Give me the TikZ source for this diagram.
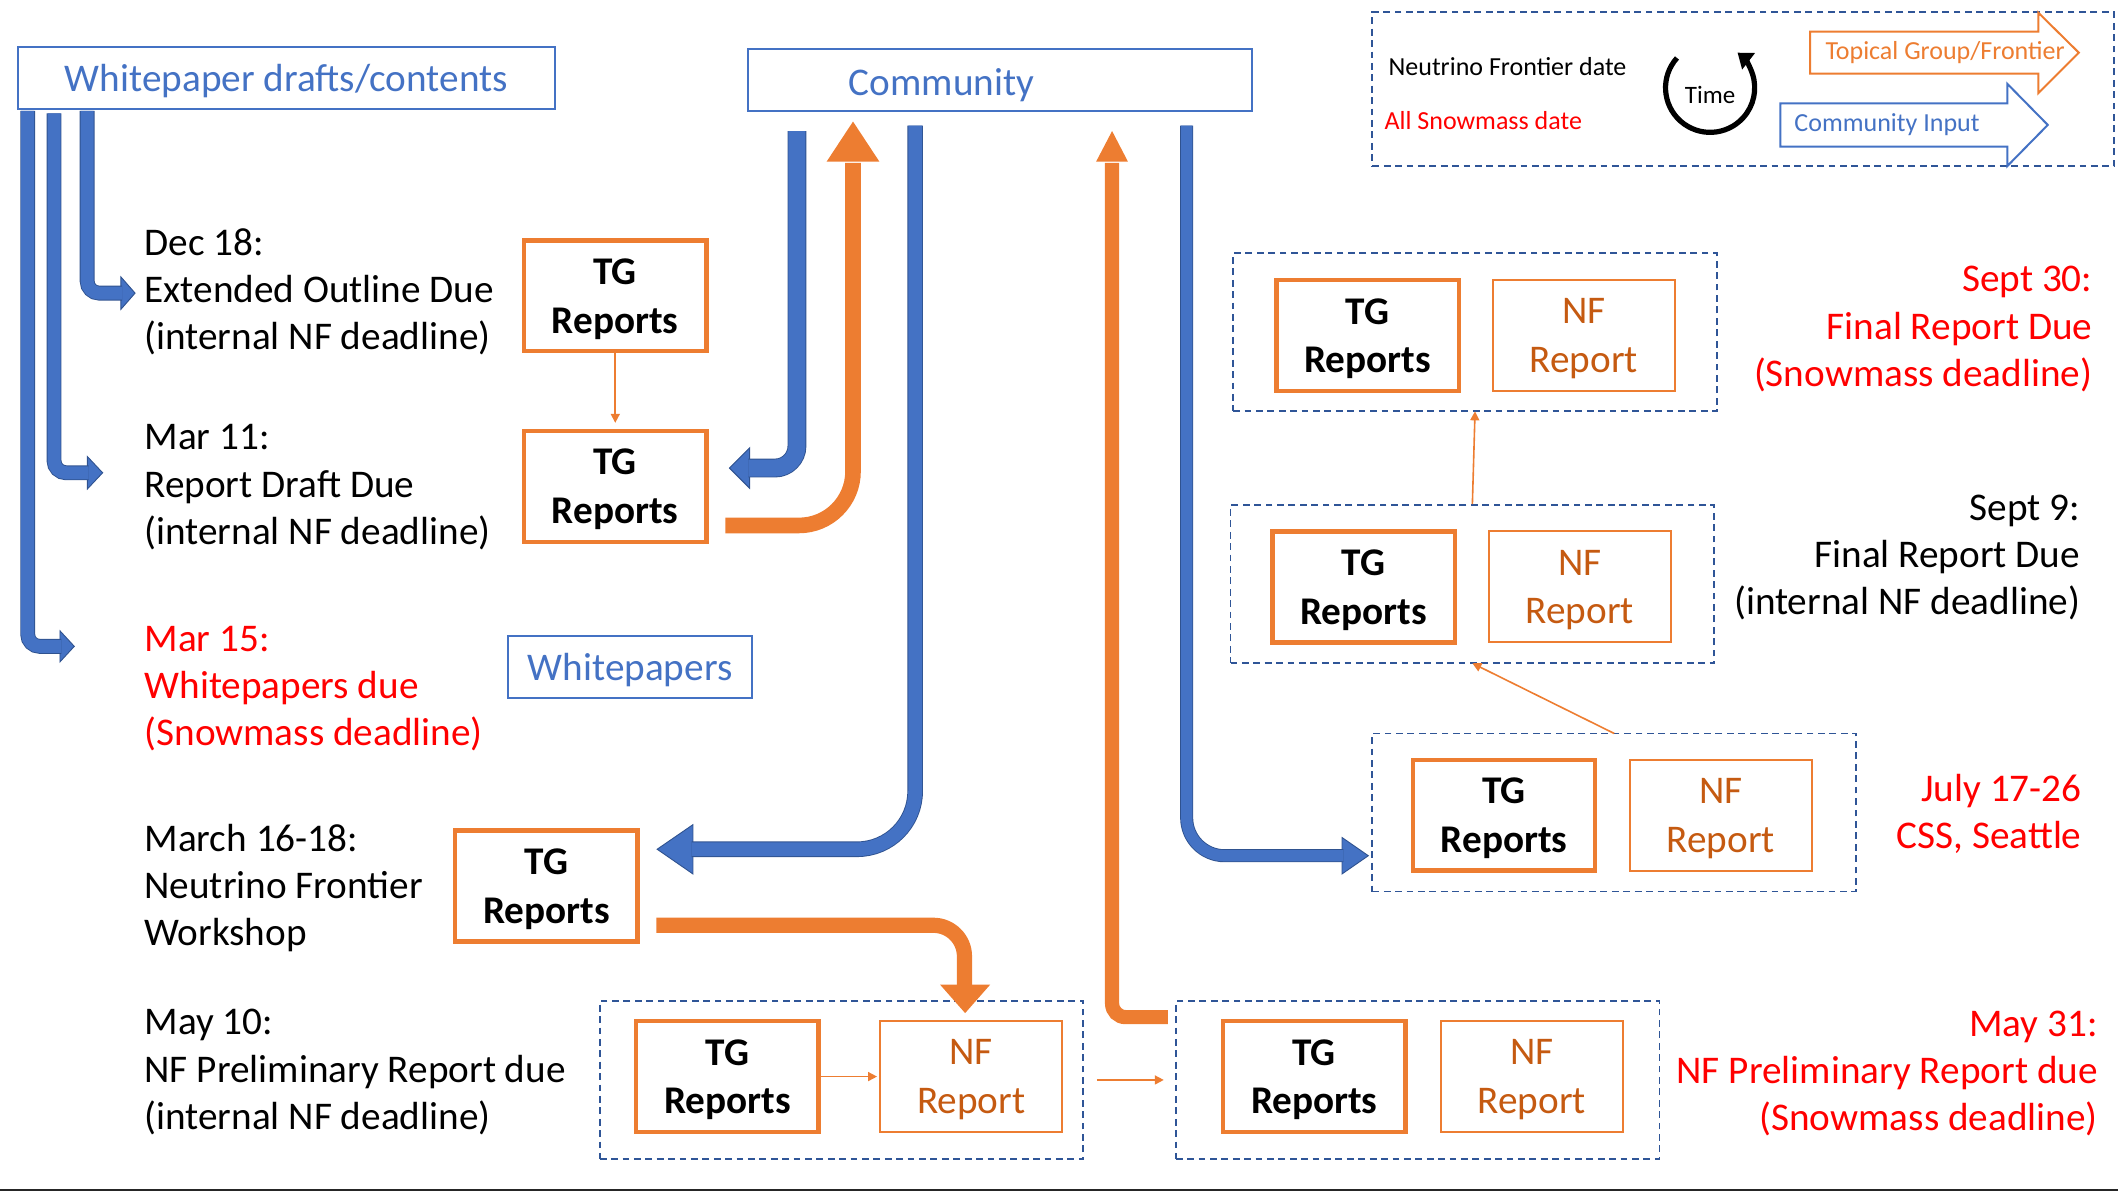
\documentclass[tikz,border=0pt]{standalone}
\usepackage{fontspec}
\setmainfont{Carlito}
\usetikzlibrary{arrows.meta}
\definecolor{bfill}{HTML}{4472C4}
\definecolor{bdark}{HTML}{2F528F}
\definecolor{oran}{HTML}{ED7D31}
\definecolor{nftext}{HTML}{C55A11}
\definecolor{dashc}{HTML}{2F5597}
\definecolor{redt}{HTML}{FF0000}
\begin{document}
\begin{tikzpicture}[x=0.675pt,y=-0.675pt,
  every node/.style={inner sep=0pt, outer sep=0pt},
  big/.style={font=\fontsize{19.6}{23.6}\selectfont},
  legtxt/.style={font=\fontsize{13}{15}\selectfont},
  tgbox/.style={draw=oran, line width=2.2pt, minimum width=91.1pt, minimum height=55.4pt, align=center, text depth=-2.7pt, font=\fontsize{19.6}{24.3}\selectfont\bfseries},
  nfbox/.style={draw=oran, line width=1pt, minimum width=91.1pt, minimum height=55.4pt, align=center, text depth=-2.7pt, text=nftext, font=\fontsize{19.6}{24.3}\selectfont},
  grp/.style={draw=dashc, line width=0.9pt, dash pattern=on 3.4pt off 2.3pt, minimum width=241.7pt, minimum height=79pt},
  bluebox/.style={draw=bfill, line width=1pt, text=bfill, text depth=0pt, big},
  lefttxt/.style={big, align=left, anchor=base west},
  righttxt/.style={big, align=right, anchor=base east},
  thinarr/.style={draw=oran, line width=0.8pt, -{Triangle[length=4.5pt,width=4.5pt]}},
  bshaft/.style={draw=bdark, line width=0.45pt, double=bfill},
  bhead/.style={fill=bfill, draw=bdark, line width=0.45pt, line join=miter},
  ohead/.style={fill=oran}
]
\useasboundingbox (0,0) rectangle (1568,882);

% ---------- top boxes
\node[bluebox, minimum width=268.7pt, minimum height=31pt] (wpd) at (212,58) {Whitepaper drafts/contents};
\node[draw=bfill, line width=1pt, minimum width=251.8pt, minimum height=31pt] (comm) at (740.5,59) {};
\node[big, text=bfill, text depth=0pt] (commtxt) at (697,60.5) {Community};

% ---------- legend
\node[grp, minimum width=370.6pt, minimum height=77pt] (legend) at (1290.5,66) {};
\node[legtxt, anchor=west] (lnf) at (1028,49) {Neutrino Frontier date};
\node[legtxt, anchor=west, text=redt] (lsm) at (1025,89) {All Snowmass date};
\coordinate (tstart) at (1241.5,42.9);
\draw[line width=2.6pt, -{Triangle[length=7pt,width=10pt]}] (tstart) arc[start angle=-138, end angle=-412, radius=33];
\node[font=\fontsize{12.5}{14}\selectfont] (time) at (1266,70) {Time};
\draw[draw=oran, line width=1pt, line join=miter, fill=white]
  (1340,23.5) -- (1509,23.5) -- (1509,9.4) -- (1539,39) -- (1509,69) -- (1509,54.5) -- (1340,54.5) -- cycle;
\node[legtxt, text=oran] (ltg) at (1440,39) {Topical Group/Frontier};
\draw[draw=bfill, line width=1pt, line join=miter, fill=white]
  (1318,76.5) -- (1486,76.5) -- (1486,62) -- (1516,92.5) -- (1486,123) -- (1486,108.5) -- (1318,108.5) -- cycle;
\node[legtxt, text=bfill] (lci) at (1397,92.5) {Community Input};

% ---------- left timeline text (base = last line)
\node[lefttxt] (dec18) at (107,259) {Dec 18:\\Extended Outline Due\\(internal NF deadline)};
\node[lefttxt] (mar11) at (107,403) {Mar 11:\\Report Draft Due\\(internal NF deadline)};
\node[lefttxt, text=redt] (mar15) at (107,552) {Mar 15:\\Whitepapers due\\(Snowmass deadline)};
\node[lefttxt] (mar16) at (107,700) {March 16-18:\\Neutrino Frontier\\Workshop};
\node[lefttxt] (may10) at (107,836) {May 10:\\NF Preliminary Report due\\(internal NF deadline)};

% ---------- right timeline text
\node[righttxt, text=redt] (sep30) at (1549,286) {Sept 30:\\Final Report Due\\(Snowmass deadline)};
\node[righttxt] (sep9) at (1540,455) {Sept 9:\\Final Report Due\\(internal NF deadline)};
\node[righttxt, text=redt] (jul) at (1541,628) {July 17-26\\CSS, Seattle};
\node[righttxt, text=redt] (may31) at (1553,837) {May 31:\\NF Preliminary Report due\\(Snowmass deadline)};

% ---------- boxes
\node[tgbox] (tg1) at (455.5,219) {TG\\Reports};
\node[tgbox] (tg2) at (455.5,360) {TG\\Reports};
\node[bluebox, minimum width=122.2pt, minimum height=31pt] (wp) at (466.5,494) {Whitepapers};
\node[tgbox] (tg3) at (404.5,656) {TG\\Reports};

\node[grp] (g1) at (623,799.5) {};
\node[tgbox] (g1tg) at (538.5,797) {TG\\Reports};
\node[nfbox] (g1nf) at (719,797) {NF\\Report};

\node[grp] (g2) at (1049.5,799.5) {};
\node[tgbox] (g2tg) at (973,797) {TG\\Reports};
\node[nfbox] (g2nf) at (1134,797) {NF\\Report};

\node[grp] (g3) at (1195,601.5) {};
\node[tgbox] (g3tg) at (1113.5,603.5) {TG\\Reports};
\node[nfbox] (g3nf) at (1274,603.5) {NF\\Report};

\node[grp] (g4) at (1090,432.5) {};
\node[tgbox] (g4tg) at (1009.5,434.5) {TG\\Reports};
\node[nfbox] (g4nf) at (1169.5,434.5) {NF\\Report};

\node[grp] (g5) at (1092,246) {};
\node[tgbox] (g5tg) at (1012.5,248.5) {TG\\Reports};
\node[nfbox] (g5nf) at (1172.5,248.5) {NF\\Report};

% ---------- thin orange connectors
\draw[thinarr, shorten >=4pt, shorten <=1pt] (tg1.south) -- (tg2.north);
\draw[thinarr, shorten <=1pt, shorten >=1.5pt] (g1tg.east) -- (g1nf.west);
\draw[thinarr, shorten <=6.7pt, shorten >=6pt] (g1.east) -- (g2.west);
\draw[thinarr] (g3.north) -- (g4.south);
\draw[thinarr, shorten <=0.5pt] (g4.north) -- (g5.south);

% ---------- left blue block arrows (from whitepaper drafts)
\coordinate (l1s) at (64.5,82);
\coordinate (l1e) at (90.5,217);
\filldraw[bhead] (100,217) -- (89.5,205) -- (89.5,229) -- cycle;
\draw[bshaft, double distance=6.5pt, rounded corners=6pt] (l1s) |- (l1e);

\coordinate (l2s) at (40,84);
\coordinate (l2e) at (65.7,350);
\filldraw[bhead] (76,350) -- (64.7,338) -- (64.7,362) -- cycle;
\draw[bshaft, double distance=6.5pt, rounded corners=6pt] (l2s) |- (l2e);

\coordinate (l3s) at (20.5,82);
\coordinate (l3e) at (45.4,478.5);
\filldraw[bhead] (55,478.5) -- (44.4,467) -- (44.4,490) -- cycle;
\draw[bshaft, double distance=6.5pt, rounded corners=6pt] (l3s) |- (l3e);

% ---------- community <-> Mar 11
\coordinate (b1s) at (590,97);
\coordinate (b1e) at (554,346.5);
\filldraw[bhead] (540,346.5) -- (555,331.5) -- (555,361.5) -- cycle;
\draw[bshaft, double distance=8.5pt, rounded corners=11pt] (b1s) |- (b1e);

\coordinate (o1s) at (537,389);
\coordinate (o1e) at (631.5,120.6);
\fill[ohead] (631.5,90) -- (612,119.6) -- (651,119.6) -- cycle;
\draw[oran, line width=7.8pt, rounded corners=27pt] (o1s) -| (o1e);

% ---------- community -> March 16-18
\coordinate (b2s) at (677.5,93);
\coordinate (b2e) at (512,628.7);
\filldraw[bhead] (486.5,628.7) -- (513,610.5) -- (513,647) -- cycle;
\draw[bshaft, double distance=6.9pt, rounded corners=29pt] (b2s) |- (b2e);

\coordinate (o2s) at (486,685);
\coordinate (o2e) at (714,730);
\fill[ohead] (714.5,750) -- (696,729) -- (733,729) -- cycle;
\draw[oran, line width=7.6pt, rounded corners=15.5pt] (o2s) -| (o2e);

% ---------- May 31 -> community
\coordinate (o3s) at (864.5,753);
\coordinate (o3e) at (823.3,120.6);
\fill[ohead] (823.3,97) -- (811.5,119.6) -- (835,119.6) -- cycle;
\draw[oran, line width=7.1pt, rounded corners=6.75pt] (o3s) -| (o3e);

% ---------- community -> July
\coordinate (b3s) at (878.5,93);
\coordinate (b3e) at (994.5,633.5);
\filldraw[bhead] (1013,633.5) -- (993.5,620) -- (993.5,647) -- cycle;
\draw[bshaft, double distance=5.6pt, rounded corners=19pt] (b3s) |- (b3e);

% ---------- bottom rule
\draw[line width=1.1pt, black!85] (0,881.2) -- (1568,881.2);
\end{tikzpicture}
\end{document}
